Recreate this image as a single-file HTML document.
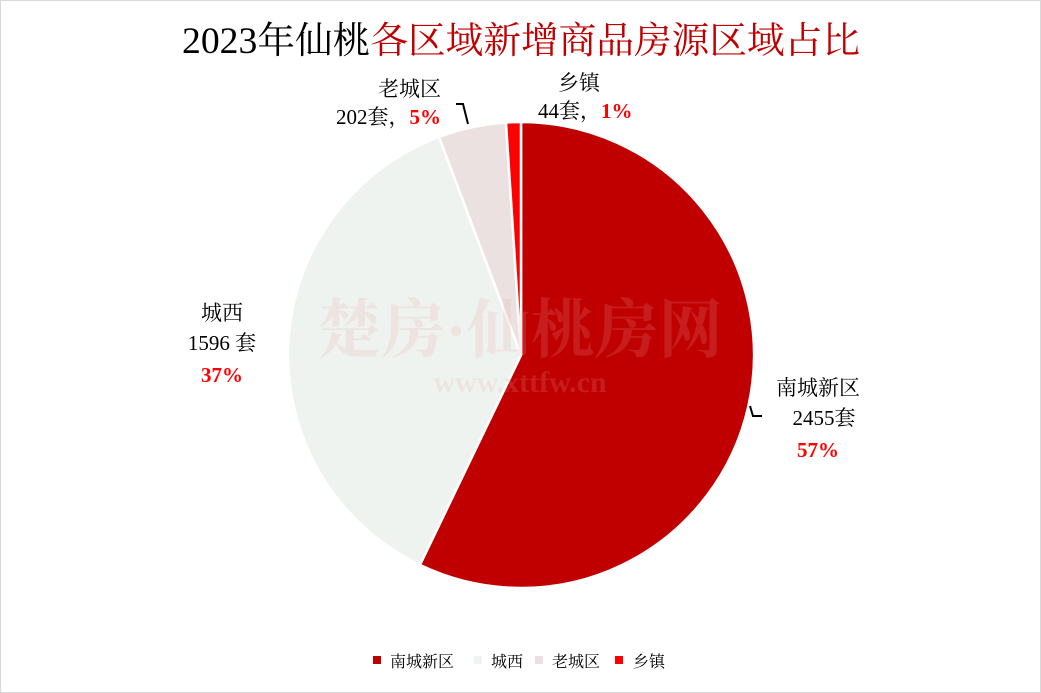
<!DOCTYPE html>
<html><head><meta charset="utf-8"><style>
body{margin:0;background:#fff}
svg{display:block}
text{font-family:"Liberation Serif","Noto Serif CJK SC",serif}
</style></head><body>
<svg width="1041" height="693" viewBox="0 0 1041 693">
<rect x="0.5" y="0.5" width="1040" height="692" fill="#fff" stroke="#d9d9d9"/>
<text x="521" y="53" text-anchor="middle" font-size="37" fill="#000" textLength="678" lengthAdjust="spacingAndGlyphs">2023年仙桃<tspan fill="#C00000">各区域新增商品房源区域占比</tspan></text>
<g stroke="#fff" stroke-width="2.5">
<path d="M521,355 L521,122 A233,233 0 1 1 419.9,564.9 Z" fill="#C00000"/>
<path d="M521,355 L419.9,564.9 A233,233 0 0 1 439,136.9 Z" fill="#EFF3EF"/>
<path d="M521,355 L439,136.9 A233,233 0 0 1 506,122.5 Z" fill="#EBE1E1"/>
<path d="M521,355 L506,122.5 A233,233 0 0 1 521,122 Z" fill="#FF0000"/>
</g>
<text x="520" y="352" text-anchor="middle" font-size="64" font-weight="bold" fill="#E8A0A0" opacity="0.18" font-family="Liberation Sans,Noto Sans CJK SC,sans-serif">楚房·仙桃房网</text>
<text x="520" y="392" text-anchor="middle" font-size="30" font-weight="bold" fill="#E8A0A0" opacity="0.18" font-family="Liberation Sans,sans-serif">www.xttfw.cn</text>
<g font-size="21" fill="#000">
<text x="378" y="96">老城区</text>
<text x="336" y="124">202套，<tspan fill="#FF0000" font-weight="bold">5%</tspan></text>
<text x="558" y="90">乡镇</text>
<text x="538" y="118">44套，<tspan fill="#FF0000" font-weight="bold">1%</tspan></text>
<text x="222" y="320" text-anchor="middle">城西</text>
<text x="222" y="350" text-anchor="middle">1596 套</text>
<text x="222" y="382" text-anchor="middle" fill="#FF0000" font-weight="bold">37%</text>
<text x="818" y="395" text-anchor="middle">南城新区</text>
<text x="824" y="425" text-anchor="middle">2455套</text>
<text x="818" y="457" text-anchor="middle" fill="#FF0000" font-weight="bold">57%</text>
</g>
<g stroke="#000" stroke-width="2" fill="none">
<path d="M456,104 L463,104 L468,124"/>
<path d="M750,406 L753,416 L762,416"/>
</g>
<g font-size="16" fill="#000">
<rect x="373" y="656" width="8" height="8" fill="#C00000"/><text x="390" y="667">南城新区</text>
<rect x="474" y="656" width="8" height="8" fill="#EFF3EF"/><text x="491" y="667">城西</text>
<rect x="535" y="656" width="8" height="8" fill="#EBE1E1"/><text x="552" y="667">老城区</text>
<rect x="615" y="656" width="8" height="8" fill="#FF0000"/><text x="633" y="667">乡镇</text>
</g>
</svg>
</body></html>
